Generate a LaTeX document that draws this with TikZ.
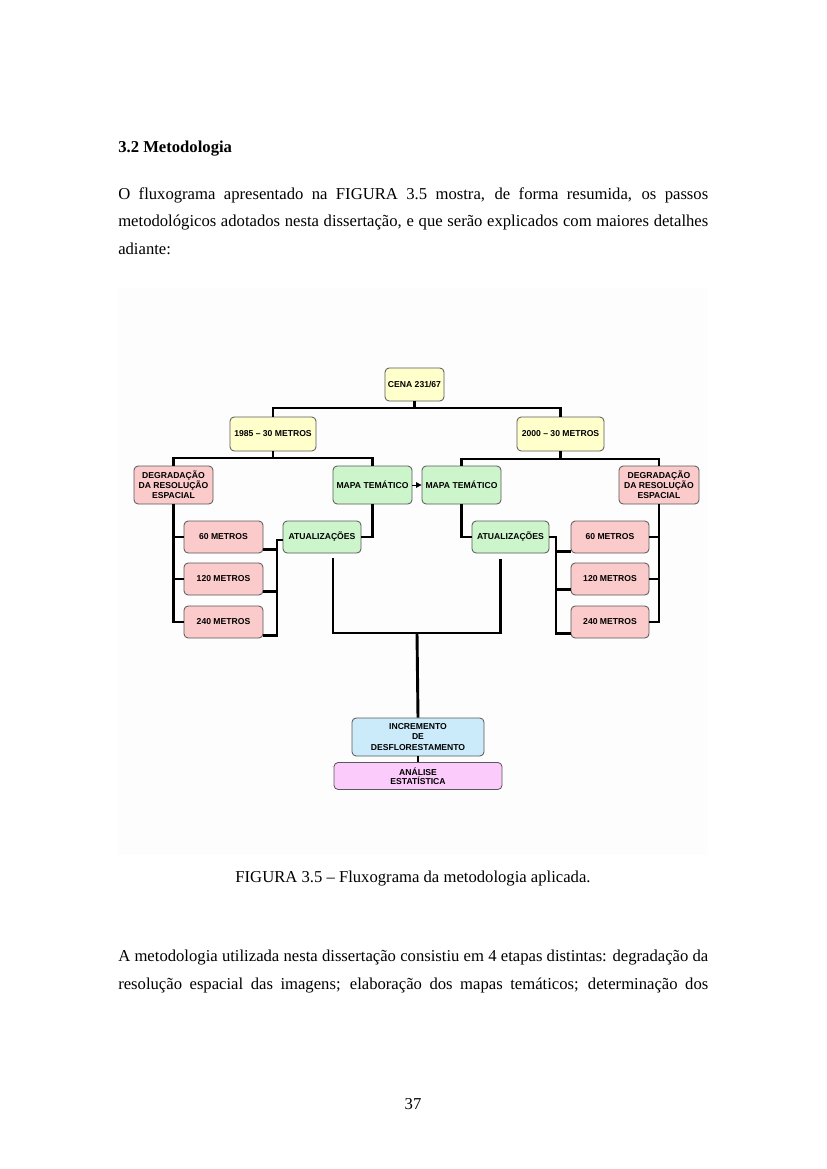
\documentclass[tikz,border=0pt]{standalone}
\usepackage{fontspec}
\setmainfont{Liberation Serif}
\newfontfamily\boxfont{Liberation Sans}
\usetikzlibrary{arrows.meta}
\newlength\pxu \setlength\pxu{0.7207pt}
\definecolor{cyel}{HTML}{FFFFCC}
\definecolor{cpink}{HTML}{FBCACA}
\definecolor{cgreen}{HTML}{CCF5CC}
\definecolor{cblue}{HTML}{CCEBFA}
\definecolor{cviol}{HTML}{FBCCFB}
\definecolor{figbg}{HTML}{FDFDFD}
\tikzset{
  box/.style={draw=black!65, line width=0.6pt, rounded corners=3pt, align=center, inner sep=1pt,
    font=\boxfont\bfseries\fontsize{6.2}{7.3}\selectfont},
  sz/.style 2 args={minimum width=#1*\pxu, minimum height=#2*\pxu},
  yelbox/.style={box, fill=cyel},
  pinkbox/.style={box, fill=cpink},
  greenbox/.style={box, fill=cgreen},
  conn/.style={line width=2.1pt},
  arr/.style={-{Triangle[length=4pt,width=4pt]}, line width=0.6pt},
  bodytext/.style={anchor=base west, inner sep=0pt, font=\fontsize{12}{14}\selectfont}
}
\begin{document}
\begin{tikzpicture}[x=0.7207pt,y=-0.7207pt]
\useasboundingbox (0,0) rectangle (826,1169);
\fill[white] (0,0) rectangle (826,1169);
\fill[figbg] (118,288) rectangle (708,855);

% page text
\node[bodytext, font=\fontsize{12}{14}\selectfont\bfseries] (head) at (118,153) {3.2 Metodologia};
\node[bodytext] (p1) at (118,200) {\makebox[425.2pt][s]{O fluxograma apresentado na FIGURA 3.5 mostra, de forma resumida, os passos}};
\node[bodytext] (p2) at (118,227) {\makebox[425.2pt][s]{metodológicos adotados nesta dissertação, e que serão explicados com maiores detalhes}};
\node[bodytext] (p3) at (118,255) {adiante:};
\node[bodytext, anchor=base] (cap) at (413,882) {FIGURA 3.5 – Fluxograma da metodologia aplicada.};
\node[bodytext] (q1) at (118,961) {\makebox[425.2pt][s]{A metodologia utilizada nesta dissertação consistiu em 4 etapas distintas: degradação da}};
\node[bodytext] (q2) at (118,989) {\makebox[425.2pt][s]{resolução espacial das imagens; elaboração dos mapas temáticos; determinação dos}};
\node[bodytext, anchor=base] (pg) at (413,1109) {37};

% boxes
\node[yelbox, sz={59}{33}] (cena) at (414.5,384.5) {CENA 231/67};
\node[yelbox, sz={86}{34}] (y85) at (273,434) {1985 – 30 METROS};
\node[yelbox, sz={87}{34}] (y00) at (560.5,434) {2000 – 30 METROS};
\node[pinkbox, sz={79}{38}] (degL) at (173.5,485) {DEGRADAÇÃO\\DA RESOLUÇÃO\\ESPACIAL};
\node[greenbox, sz={79}{38}] (mapL) at (372.5,485) {MAPA TEMÁTICO};
\node[greenbox, sz={79}{38}] (mapR) at (461.5,485) {MAPA TEMÁTICO};
\node[pinkbox, sz={80}{38}] (degR) at (659,485) {DEGRADAÇÃO\\DA RESOLUÇÃO\\ESPACIAL};
\node[pinkbox, sz={79}{32}] (m60L) at (223.5,537) {60 METROS};
\node[pinkbox, sz={79}{32}] (m120L) at (223.5,579) {120 METROS};
\node[pinkbox, sz={79}{32}] (m240L) at (223.5,622) {240 METROS};
\node[greenbox, sz={78}{32}] (atuL) at (322,537) {ATUALIZAÇÕES};
\node[greenbox, sz={77}{32}] (atuR) at (510.5,537) {ATUALIZAÇÕES};
\node[pinkbox, sz={78}{32}] (m60R) at (610,537) {60 METROS};
\node[pinkbox, sz={78}{32}] (m120R) at (610,579) {120 METROS};
\node[pinkbox, sz={78}{32}] (m240R) at (610,622) {240 METROS};
\node[box, fill=cblue, sz={132}{38}] (inc) at (418,737) {INCREMENTO\\DE\\DESFLORESTAMENTO};
\node[box, fill=cviol, sz={168}{27}, font=\boxfont\bfseries\fontsize{6.2}{6.7}\selectfont] (ana) at (418,776) {ANÁLISE\\ESTATÍSTICA};

% hubs
\coordinate (h0) at (414.5,408);
\coordinate (hL) at (273,458);
\coordinate (hR) at (560.5,459);
\coordinate (bL) at (277,540);
\coordinate (bR) at (556,537);
\coordinate (mg) at (417,633);

% connectors
\draw[conn] (cena.south) -- (h0);
\draw[conn] (y85.north) |- (h0) -| (y00.north);
\draw[conn] (y85.south) -- (hL);
\draw[conn] (degL.north) |- (hL) -| (mapL.north);
\draw[conn] (y00.south) -- (hR);
\draw[conn] (mapR.north) |- (hR) -| (degR.north);

\draw[conn] (degL.south) |- (m240L.west);
\draw[conn] (degL.south |- m60L.west) -- (m60L.west);
\draw[conn] (degL.south |- m120L.west) -- (m120L.west);
\draw[conn] ([yshift=3\pxu]m240L.south east) -| (bL) -- (bL -| atuL.west);
\draw[conn] ([yshift=4\pxu]m60L.south east) -- ([yshift=4\pxu]m60L.south east -| bL);
\draw[conn] ([yshift=4\pxu]m120L.south east) -- ([yshift=4\pxu]m120L.south east -| bL);
\draw[conn] (mapL.south) |- (atuL.east);

\draw[arr] (mapL.east) -- (mapR.west);

\draw[conn] (mapR.south) |- (atuR.west);
\draw[conn] (atuR.east) -- (bR) |- ([yshift=5\pxu]m240R.south west);
\draw[conn] ([yshift=2\pxu]m60R.south west) -- ([yshift=2\pxu]m60R.south west -| bR);
\draw[conn] ([yshift=6\pxu]m120R.south west) -- ([yshift=6\pxu]m120R.south west -| bR);
\draw[conn] (degR.south) |- (m240R.east);
\draw[conn] (degR.south |- m60R.east) -- (m60R.east);
\draw[conn] (degR.south |- m120R.east) -- (m120R.east);

\draw[conn] ([xshift=11\pxu,yshift=-5\pxu]atuL.south) |- (mg) -| ([xshift=-10\pxu,yshift=-6\pxu]atuR.south);
\draw[conn] (mg) -- (inc.north);
\draw[conn] (inc.south) -- (ana.north);
\end{tikzpicture}
\end{document}
